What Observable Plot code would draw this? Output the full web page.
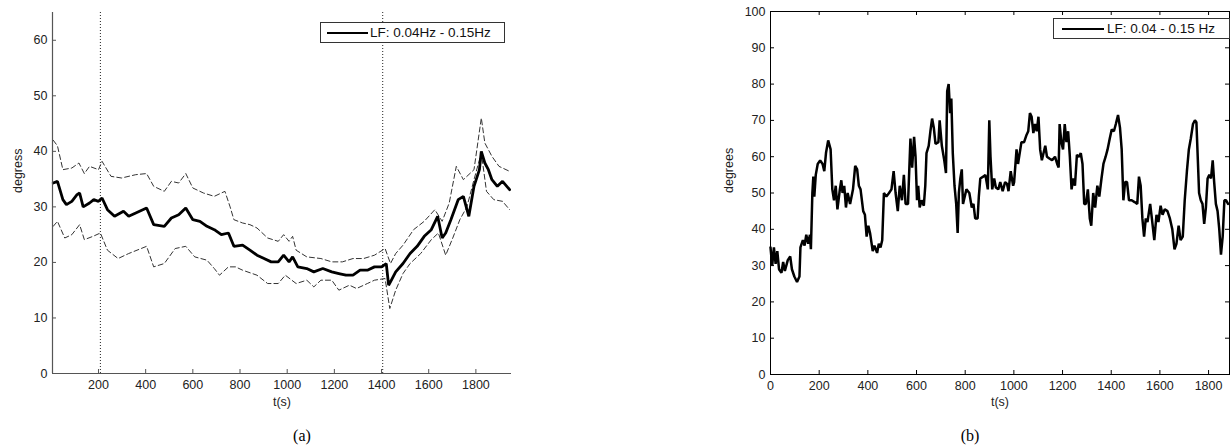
<!DOCTYPE html>
<html><head><meta charset="utf-8">
<script src="https://cdn.jsdelivr.net/npm/d3@7"></script>
<script src="https://cdn.jsdelivr.net/npm/@observablehq/plot@0.6"></script>
<style>
html,body{margin:0;padding:0;background:#fff;}
body{width:1230px;height:448px;position:relative;overflow:hidden;font-family:"Liberation Sans",Arial,sans-serif;}
.panel{position:absolute;top:0;}
.legend{position:absolute;box-sizing:border-box;border:1px solid #333;background:#fff;font-size:13.5px;color:#111;white-space:nowrap;}
.legend .sw{position:absolute;height:0;border-top:2px solid #000;}
.legend .tx{position:absolute;line-height:14px;}
.cap{position:absolute;font-family:"Liberation Serif","Times New Roman",serif;font-size:16px;color:#000;transform:translate(-50%,-50%);}
</style></head>
<body>
<div id="pa" class="panel" style="left:0px"></div>
<div id="pb" class="panel" style="left:690px"></div>
<div class="legend" style="left:320px;top:22px;width:185px;height:21px;"><div class="sw" style="left:6px;width:41px;top:9px;"></div><div class="tx" style="left:49px;top:3px;">LF: 0.04Hz - 0.15Hz</div></div>
<div class="legend" style="left:1053px;top:18px;width:177px;height:21px;"><div class="sw" style="left:8px;width:42px;top:9px;"></div><div class="tx" style="left:53px;top:3px;">LF: 0.04 - 0.15 Hz</div></div>
<div class="cap" style="left:302px;top:436px;">(a)</div>
<div class="cap" style="left:970px;top:436px;">(b)</div>
<script>
// ---------- Panel (a) data ----------
const aMidT = [8,26,49,64,87,109,120,135,162,180,200,215,238,268,306,328,358,404,434,479,509,540,570,600,630,660,691,721,751,774,811,842,872,902,932,962,985,1008,1023,1045,1083,1113,1151,1189,1219,1249,1279,1309,1340,1370,1400,1420,1430,1438,1460,1491,1521,1551,1581,1611,1638,1657,1672,1694,1725,1747,1770,1792,1815,1823,1838,1853,1868,1891,1913,1943];
const aMidV = [34.3,34.6,31.3,30.4,31,32.2,32.5,30,30.7,31.3,31,31.6,29.5,28.3,29.2,28.3,28.9,29.8,26.8,26.5,28,28.6,29.8,27.7,27.4,26.5,25.9,25,25.3,22.9,23.1,22.2,21.3,20.7,20.1,20.1,21.3,20.1,21,19.2,18.9,18.3,18.9,18.3,18,17.7,17.7,18.6,18.6,19.2,19.2,19.8,15.9,16.5,18.3,19.8,21.6,22.9,24.7,25.9,28.3,24.4,25.3,27.7,31.3,31.9,28.3,33.7,36.7,40,37.9,36.7,34.9,33.7,34.6,33.1];
const aHiT = [8,26,49,87,117,140,162,200,215,253,298,358,404,434,479,509,540,570,600,645,691,736,758,774,811,842,872,917,962,985,1008,1023,1038,1083,1143,1189,1234,1279,1324,1370,1415,1438,1460,1491,1536,1581,1626,1657,1687,1717,1747,1792,1823,1838,1868,1898,1943];
const aHiV = [42,41,36.7,37,37.9,36,37.3,36.7,38.2,35.5,35.2,35.8,36,33.7,32.8,34.6,34.3,36,33.4,32.5,31.9,32.8,30,27.7,27.1,26.8,26.2,24.4,23.8,25,23.8,24.7,22.2,21,20.7,20.1,20.1,20.7,20.7,21.3,22.5,19.8,21.6,23.1,25.9,27.4,29.5,27.4,30.7,37.3,34.9,36.7,46,41.5,39.1,37.3,36.4];
const aLoT = [8,26,57,87,120,140,177,208,238,283,328,404,434,479,525,570,608,660,691,713,751,781,811,872,917,962,992,1038,1083,1113,1143,1189,1219,1264,1294,1340,1370,1415,1435,1460,1491,1521,1566,1611,1641,1672,1702,1732,1762,1792,1823,1845,1876,1913,1943];
const aLoV = [26.5,27.4,24.4,25,26.8,24.1,24.7,25.3,22.2,20.7,21.6,22.9,19.2,19.8,22.5,22.9,21,20.4,18.9,17.7,19.2,19.2,18.6,17.7,16.2,16.2,17.7,16.2,16.8,15.6,16.8,16.8,15,15.9,15.3,16.2,16.8,17.1,11.7,15,18,19.8,21.6,24.1,25.3,21.3,24.4,27.7,30,34.9,39.7,32.8,31.3,31,29.5];
const aMarkers = [208, 1405];
const aXTicks = [200,400,600,800,1000,1200,1400,1600,1800];
const aYTicks = [0,10,20,30,40,50,60];
const aXDomain = [5, 1951];
const aYDomain = [0, 65];

// ---------- Panel (b) data ----------
const bT = [0,7,14,21,28,35,45,52,59,71,81,88,98,109,119,123,133,140,147,155,162,166,172,176,180,186,194,204,214,221,228,237,247,254,261,268,275,285,291,296,303,310,317,327,339,348,356,363,370,381,388,395,402,409,420,427,438,445,452,459,466,476,487,497,506,514,523,531,540,548,555,565,575,582,590,596,602,607,613,621,630,636,641,650,657,664,671,678,690,695,704,714,721,726,732,738,743,749,756,763,769,774,780,786,791,798,805,817,827,834,841,851,856,862,874,883,893,899,904,911,919,926,936,944,954,964,972,978,987,997,1001,1011,1017,1024,1031,1042,1052,1059,1066,1073,1080,1087,1094,1101,1108,1115,1122,1129,1136,1146,1157,1169,1178,1184,1188,1195,1202,1209,1216,1223,1230,1237,1244,1251,1259,1268,1275,1282,1289,1296,1304,1312,1318,1326,1334,1343,1351,1360,1368,1377,1385,1394,1402,1411,1419,1428,1436,1443,1450,1457,1465,1473,1484,1496,1507,1514,1521,1528,1535,1542,1549,1560,1567,1577,1586,1594,1603,1611,1620,1631,1641,1651,1660,1668,1677,1685,1694,1702,1711,1719,1727,1736,1744,1750,1756,1761,1768,1775,1782,1789,1796,1803,1810,1817,1823,1830,1837,1844,1851,1858,1865,1872,1880];
const bV = [35,30,35,30.5,34,29,28,31,28.5,31.5,32.5,29,27,25.5,27,35,37,35.5,38.5,36,38.5,34.5,50,54.5,49,55,58,59,58,56,61,64.5,62,51,48,52,45.5,51,53.5,50,52,46,50,47,51,57.5,56.5,52,51,45,44,38,41,39,34,35.5,33.5,36,35,37,50,49,50,51,56,50,45,52,48,55,47,47,65,57,65.5,60,48,52,46,48,46.5,52,61,63,67,70.5,68,63.5,64,70,63,59,55.5,78,80,72,76,61,52,47,39,50,54,56.5,47,49,51,50,46,47,43,43,49,54,54.5,55,51,70,60,51,54,51.5,51,53,50.5,53,52.5,50.5,56,52,53,62,58,61,64,64,66,67,72,71,66.5,69,67,71,62,59,61,63,60,59.5,59,60,58,57,69,64,62,69,64,67,60,51,54,52,60.5,60,61,58,47,47,51,43,41,50,46,52,49,54,58,60,62,65,67.5,67,69,71.5,68,62,48,53,53,48,48,47.5,47,54.5,52,43,38,43,42,47,43,37,44,42,46.5,44,45.5,45,43,40,34.5,36,41,37,38,48,56,62,65,69,70,69.5,59,50,48,47,41.5,46,54,55,54,59,53,47,45,40,33,38,48,48,47];
const bXTicks = [0,200,400,600,800,1000,1200,1400,1600,1800];
const bYTicks = [0,10,20,30,40,50,60,70,80,90,100];
const bXDomain = [0, 1886];
const bYDomain = [0, 100];

// ---------- build tables ----------
const zip = (T, V) => T.map((t, i) => ({t, v: V[i]}));
const aMid = zip(aMidT, aMidV), aHi = zip(aHiT, aHiV), aLo = zip(aLoT, aLoV);
const bData = zip(bT, bV);

const font = {fontFamily: "'Liberation Sans', Arial, sans-serif", fontSize: "12.5px", color: "#222", background: "#fff", overflow: "visible"};
const fmt = d => String(d);

// Panel (a)
{
  const W = 560, H = 400, mL = 52, mR = 49, mT = 12, mB = 27;
  const fw = W - mL - mR, fh = H - mT - mB, tl = 4;
  const axc = "#555";
  const p = Plot.plot({
    width: W, height: H, marginLeft: mL, marginRight: mR, marginTop: mT, marginBottom: mB,
    style: font,
    x: {domain: aXDomain},
    y: {domain: aYDomain},
    marks: [
      Plot.ruleX(aMarkers, {stroke: "#222", strokeWidth: 1, strokeDasharray: "1,2"}),
      Plot.line(aHi, {x: "t", y: "v", stroke: "#333", strokeWidth: 1, strokeDasharray: "5,3"}),
      Plot.line(aLo, {x: "t", y: "v", stroke: "#333", strokeWidth: 1, strokeDasharray: "5,3"}),
      Plot.line(aMid, {x: "t", y: "v", stroke: "#000", strokeWidth: 2.8, strokeLinejoin: "miter"}),
      Plot.tickX(aXTicks, {x: d => d, insetTop: fh - tl, stroke: axc}),
      Plot.tickY(aYTicks, {y: d => d, insetRight: fw - tl, stroke: axc}),
      Plot.ruleY([aYDomain[0]], {stroke: axc, strokeWidth: 1.2}),
      Plot.ruleX([aXDomain[0]], {stroke: axc, strokeWidth: 1.2}),
      Plot.axisX(aXTicks, {tickSize: 0, tickPadding: 7, label: null, tickFormat: fmt, fill: "#222"}),
      Plot.axisY(aYTicks, {tickSize: 0, tickPadding: 5, label: null, tickFormat: fmt, fill: "#222"}),
      Plot.text(["t(s)"], {frameAnchor: "bottom", dy: 32, fill: "#222"}),
      Plot.text(["degress"], {frameAnchor: "left", rotate: -90, dx: -35, fill: "#222"})
    ]
  });
  document.getElementById("pa").appendChild(p);
}

// Panel (b)
{
  const W = 540, H = 400, mL = 80, mR = 1, mT = 11, mB = 26;
  const fw = W - mL - mR, fh = H - mT - mB, tl = 4;
  const p = Plot.plot({
    width: W, height: H, marginLeft: mL, marginRight: mR, marginTop: mT, marginBottom: mB,
    style: font,
    x: {domain: bXDomain},
    y: {domain: bYDomain},
    marks: [
      Plot.line(bData, {x: "t", y: "v", stroke: "#000", strokeWidth: 2.5, strokeLinejoin: "miter"}),
      Plot.tickX(bXTicks, {x: d => d, insetTop: fh - tl, stroke: "#000"}),
      Plot.tickX(bXTicks, {x: d => d, insetBottom: fh - tl, stroke: "#000"}),
      Plot.tickY(bYTicks, {y: d => d, insetRight: fw - tl, stroke: "#000"}),
      Plot.tickY(bYTicks, {y: d => d, insetLeft: fw - tl, stroke: "#000"}),
      Plot.frame({stroke: "#000", strokeWidth: 1}),
      Plot.axisX(bXTicks, {tickSize: 0, tickPadding: 7, label: null, tickFormat: fmt, fill: "#222"}),
      Plot.axisY(bYTicks, {tickSize: 0, tickPadding: 5, label: null, tickFormat: fmt, fill: "#222"}),
      Plot.text(["t(s)"], {frameAnchor: "bottom", dy: 31, fill: "#222"}),
      Plot.text(["degrees"], {frameAnchor: "left", rotate: -90, dx: -42, fill: "#222"})
    ]
  });
  document.getElementById("pb").appendChild(p);
}
</script>
</body></html>
